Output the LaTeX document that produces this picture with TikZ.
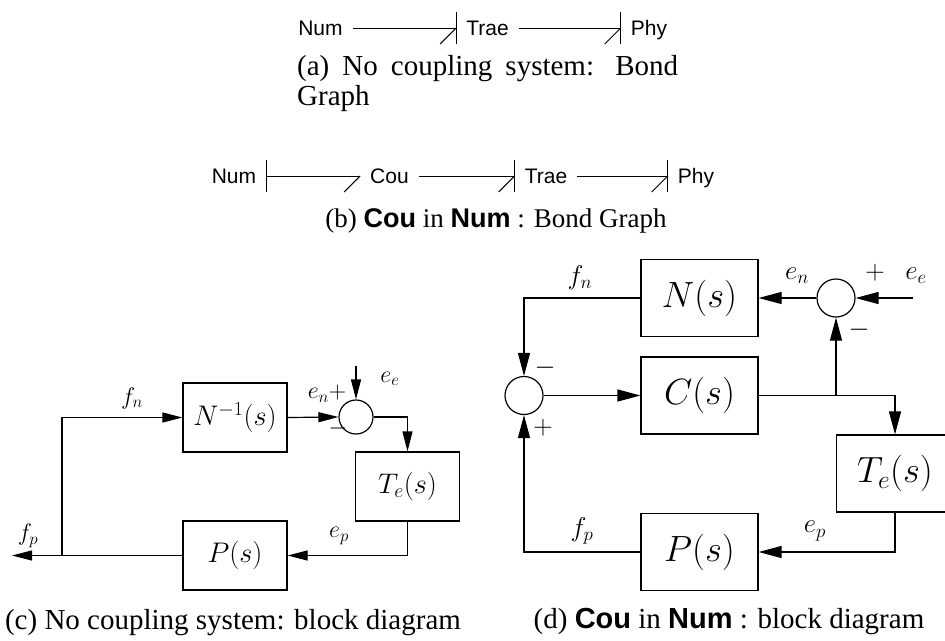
\RequirePackage{fix-cm}
\documentclass[tikz,border=0pt]{standalone}
\usepackage{graphicx}
\usepackage[no-math]{fontspec}
\setmainfont{Liberation Serif}
\setsansfont{Liberation Sans}
\usetikzlibrary{arrows.meta}
\newcommand{\blkcbox}[1]{\scalebox{1.05}{#1}}
\newcommand{\blkdbox}[1]{\scalebox{1.14}{#1}}
\begin{document}
\begin{tikzpicture}[x=1pt,y=-1pt,
  bgt/.style={font=\sffamily\fontsize{21}{21}\selectfont, inner xsep=10pt, inner ysep=0pt, text height=15pt, text depth=0pt},
  bond/.style={line width=1pt},
  capt/.style={font=\fontsize{29}{30}\selectfont, inner sep=0pt},
  blkc/.style={draw, line width=1.2pt, minimum width=104pt, minimum height=69pt, inner sep=0pt, font=\fontsize{27}{27}\selectfont},
  blkd/.style={draw, line width=1.2pt, minimum width=117pt, minimum height=77pt, inner sep=0pt, font=\fontsize{32}{32}\selectfont},
  sumc/.style={draw, circle, line width=1.2pt, minimum size=34pt, inner sep=0pt},
  sumd/.style={sumc, minimum size=38pt},
  wire/.style={line width=1.2pt},
  wc/.style={wire, -{Triangle[length=20pt,width=10pt]}},
  wd/.style={wire, -{Triangle[length=23pt,width=12pt]}},
  lblc/.style={font=\fontsize{24}{24}\selectfont, inner sep=0pt},
  lbld/.style={font=\fontsize{27}{27}\selectfont, inner sep=0pt},
]
\useasboundingbox (0,0) rectangle (945,640);

% ---------- (a) bond graph ----------
\node[bgt] (an) at (320.5,28) {Num};
\node[bgt] (at) at (487.5,28) {Trae};
\node[bgt] (ap) at (649,28) {Phy};
\draw[bond] (an.east) -- (at.west) coordinate (ae1);
\draw[bond] (ae1) -- ++(-16,16);
\draw[bond] (ae1) ++(0,-16) -- ++(0,32);
\draw[bond] (at.east) -- (ap.west) coordinate (ae2);
\draw[bond] (ae2) -- ++(-16,16);
\draw[bond] (ae2) ++(0,-16) -- ++(0,32);
\node[capt, text width=381pt, align=justify, anchor=north west] (capa) at (297,55)
  {(a) No coupling system: Bond \mbox{Graph}};

% ---------- (b) bond graph ----------
\node[bgt] (bn) at (234,176) {Num};
\node[bgt] (bc) at (389.5,176) {Cou};
\node[bgt] (bt) at (546,176) {Trae};
\node[bgt] (bp) at (696,176) {Phy};
\draw[bond] (bn.east) coordinate (bs1) -- (bc.west) coordinate (be1);
\draw[bond] (bs1) ++(0,-16) -- ++(0,32);
\draw[bond] (be1) -- ++(-16,16);
\draw[bond] (bc.east) -- (bt.west) coordinate (be2);
\draw[bond] (be2) -- ++(-16,16);
\draw[bond] (be2) ++(0,-16) -- ++(0,32);
\draw[bond] (bt.east) -- (bp.west) coordinate (be3);
\draw[bond] (be3) -- ++(-16,16);
\draw[bond] (be3) ++(0,-16) -- ++(0,32);
\node[capt, font=\fontsize{27}{28}\selectfont, anchor=base] (capb) at (496,227)
  {(b) \textsf{\textbf{Cou}} in \textsf{\textbf{Num}} : Bond Graph};

% ---------- (c) block diagram ----------
\node[blkc] (cn) at (235,417.5) {\blkcbox{$N^{-1}(s)$}};
\node[sumc] (cs) at (356,417) {};
\node[blkc] (ct) at (407.5,486.5) {\blkcbox{$T_e(s)$}};
\node[blkc] (cp) at (235,555.5) {\blkcbox{$P(s)$}};
\coordinate (cee) at (356,366);
\coordinate (cj) at (62,555.5);
\coordinate (cfp) at (12,555.5);
\draw[wc] (cj) |- (cn.west);
\draw[wc] (cn.east) -- (cs.west);
\draw[wc] (cee) -- (cs.north);
\draw[wc] (cs.east) -| (ct.north);
\draw[wc] (ct.south) |- (cp.east);
\draw[wc] (cp.west) -- (cfp);
\node[lblc] (cfn) at (132,398) {$f_n$};
\node[lblc] (cen) at (327,394) {$e_n{+}$};
\node[lblc] (cmi) at (338,428) {$-$};
\node[lblc] (cel) at (390,379) {$e_e$};
\node[lblc] (cep) at (339,536) {$e_p$};
\node[lblc] (cfpl) at (28,536) {$f_p$};
\node[capt, anchor=base] (capc) at (233,629)
  {(c) No coupling system: block diagram};

% ---------- (d) block diagram ----------
\node[blkd] (dn) at (699.5,298) {\blkdbox{$N(s)$}};
\node[blkd] (dc) at (699.5,395.5) {\blkdbox{$C(s)$}};
\node[blkd] (dt) at (895,473.5) {\blkdbox{$T_e(s)$}};
\node[blkd] (dp) at (699.5,552) {\blkdbox{$P(s)$}};
\node[sumd] (dl) at (524,395.5) {};
\node[sumd] (dr) at (836,298) {};
\coordinate (dee) at (913,298);
\coordinate (dj) at (836,395.5);
\draw[wd] (dee) -- (dr.east);
\draw[wd] (dr.west) -- (dn.east);
\draw[wd] (dn.west) -| (dl.north);
\draw[wd] (dl.east) -- (dc.west);
\draw[wd] (dc.east) -| (dt.north);
\draw[wd] (dj) -- (dr.south);
\draw[wd] (dt.south) |- (dp.east);
\draw[wd] (dp.west) -| (dl.south);
\node[lbld] (dfn) at (580,278) {$f_n$};
\node[lbld] (den) at (797,276) {$e_n$};
\node[lbld] (dpl) at (875,273) {$+$};
\node[lbld] (del) at (916,276) {$e_e$};
\node[lbld] (dmi) at (859,330) {$-$};
\node[lbld] (dmi2) at (545,368) {$-$};
\node[lbld] (dpl2) at (543,428) {$+$};
\node[lbld] (dep) at (815,531) {$e_p$};
\node[lbld] (dfp) at (582,531) {$f_p$};
\node[capt, anchor=base] (capd) at (729,628)
  {(d) \textsf{\textbf{Cou}} in \textsf{\textbf{Num}} : block diagram};
\end{tikzpicture}
\end{document}
